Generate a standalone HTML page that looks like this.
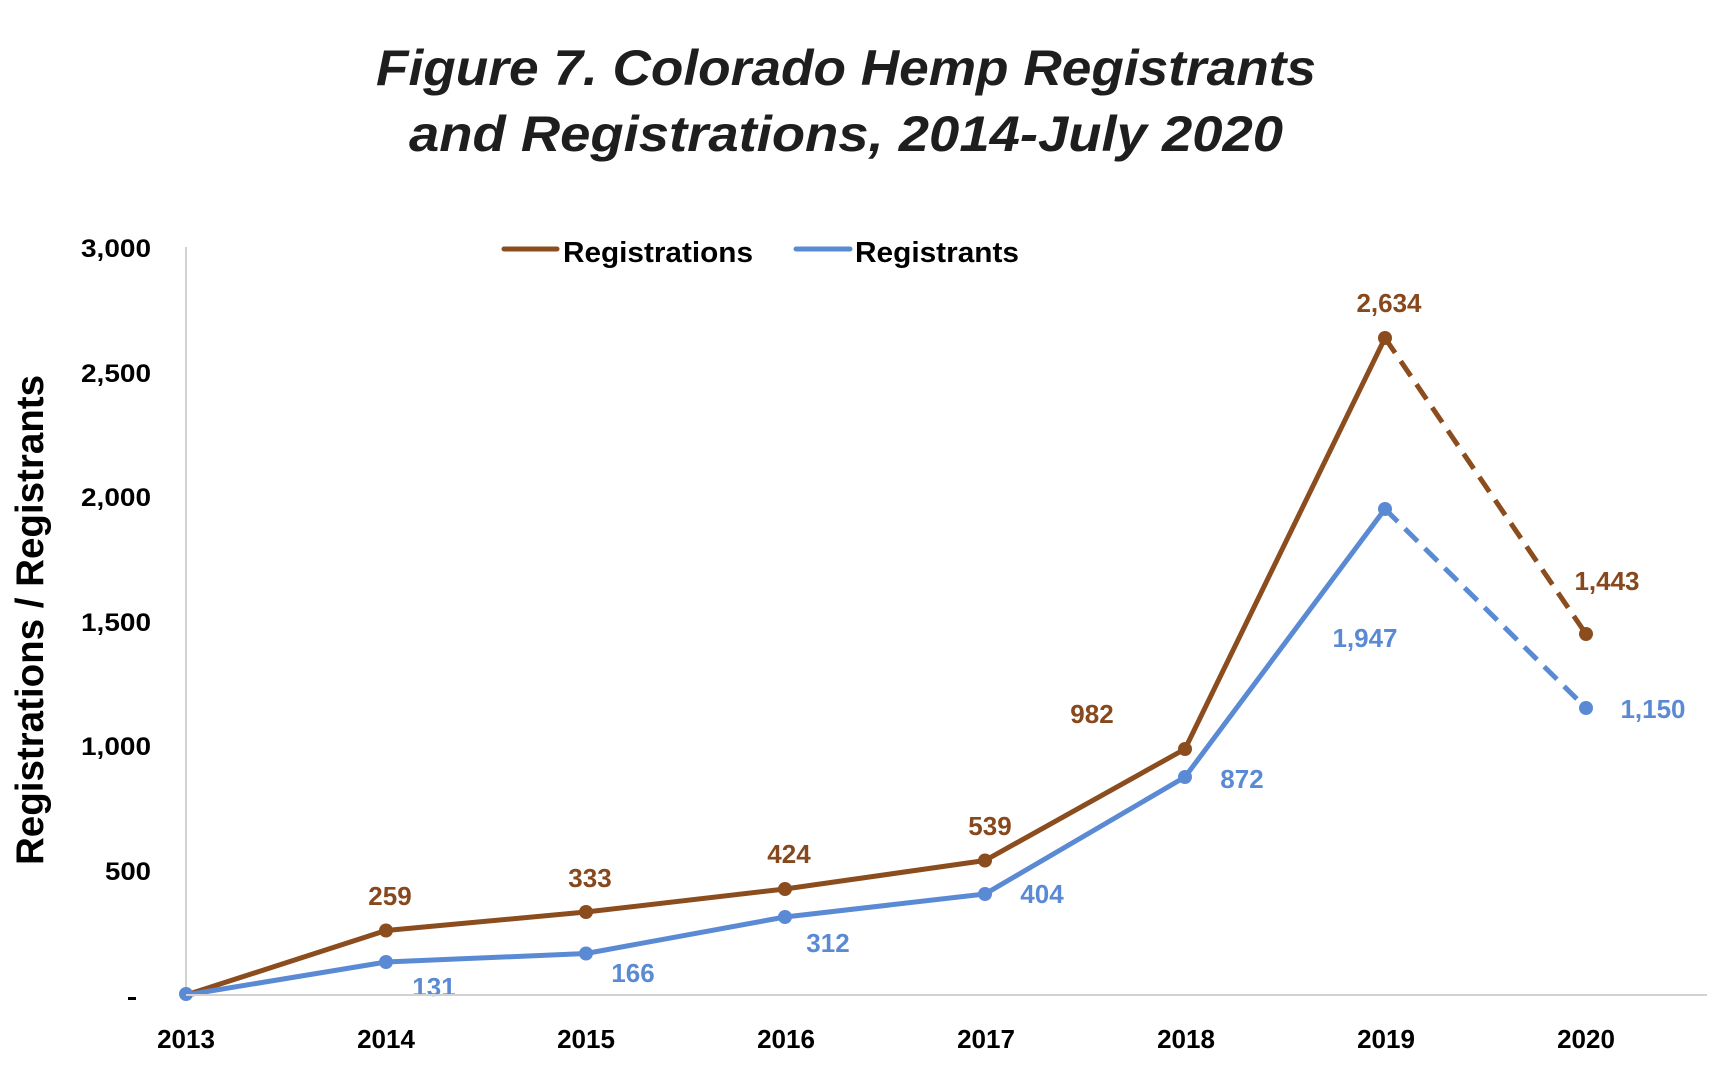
<!DOCTYPE html>
<html>
<head>
<meta charset="utf-8">
<style>
  html, body { margin: 0; padding: 0; background: #ffffff; }
  body { width: 1722px; height: 1074px; overflow: hidden; }
  svg { display: block; }
  text { font-family: "Liberation Sans", Arial, sans-serif; }
</style>
</head>
<body>
<svg width="1722" height="1074" viewBox="0 0 1722 1074" xmlns="http://www.w3.org/2000/svg">
  <rect x="0" y="0" width="1722" height="1074" fill="#ffffff"/>

  <!-- Title -->
  <text x="376" y="85" font-size="50" font-weight="bold" font-style="italic" fill="#1e1e1e" textLength="940" lengthAdjust="spacingAndGlyphs">Figure 7. Colorado Hemp Registrants</text>
  <text x="409" y="151" font-size="50" font-weight="bold" font-style="italic" fill="#1e1e1e" textLength="874" lengthAdjust="spacingAndGlyphs">and Registrations, 2014-July 2020</text>

  <!-- Y axis title -->
  <text transform="translate(43,620) rotate(-90)" x="0" y="0" text-anchor="middle" font-size="39" font-weight="bold" fill="#000" textLength="490" lengthAdjust="spacingAndGlyphs">Registrations / Registrants</text>

  <!-- Y tick labels -->
  <g font-size="25" font-weight="bold" fill="#000" text-anchor="end">
    <text x="151" y="257" textLength="70" lengthAdjust="spacingAndGlyphs">3,000</text>
    <text x="151" y="382" textLength="70" lengthAdjust="spacingAndGlyphs">2,500</text>
    <text x="151" y="506" textLength="70" lengthAdjust="spacingAndGlyphs">2,000</text>
    <text x="151" y="631" textLength="70" lengthAdjust="spacingAndGlyphs">1,500</text>
    <text x="151" y="755" textLength="70" lengthAdjust="spacingAndGlyphs">1,000</text>
    <text x="151" y="880" textLength="46" lengthAdjust="spacingAndGlyphs">500</text>
  </g>
  <rect x="128" y="997" width="8" height="3" fill="#000"/>

  <!-- Axes -->
  <line x1="186" y1="247" x2="186" y2="995" stroke="#d2d2d2" stroke-width="2"/>

  <!-- X tick labels -->
  <g font-size="26" font-weight="bold" fill="#000" text-anchor="middle">
    <text x="186" y="1048">2013</text>
    <text x="386" y="1048">2014</text>
    <text x="586" y="1048">2015</text>
    <text x="786" y="1048">2016</text>
    <text x="986" y="1048">2017</text>
    <text x="1186" y="1048">2018</text>
    <text x="1386" y="1048">2019</text>
    <text x="1586" y="1048">2020</text>
  </g>

  <!-- Legend -->
  <line x1="504" y1="249" x2="557" y2="249" stroke="#8b4c1e" stroke-width="5" stroke-linecap="round"/>
  <text x="563" y="262" font-size="29" font-weight="bold" fill="#000" textLength="190" lengthAdjust="spacingAndGlyphs">Registrations</text>
  <line x1="796" y1="249" x2="850" y2="249" stroke="#5b8ad4" stroke-width="5" stroke-linecap="round"/>
  <text x="855" y="262" font-size="29" font-weight="bold" fill="#000" textLength="164" lengthAdjust="spacingAndGlyphs">Registrants</text>

  <!-- Registrations (brown) -->
  <polyline points="186,995 386,930.5 586,912 785,889 985,860.5 1185,749 1385,338" fill="none" stroke="#8b4c1e" stroke-width="5" stroke-linejoin="round" stroke-linecap="round"/>
  <line x1="1385" y1="338" x2="1586" y2="634" stroke="#8b4c1e" stroke-width="5" stroke-dasharray="18 10"/>
  <g fill="#8b4c1e">
    <circle cx="386" cy="930.5" r="7"/>
    <circle cx="586" cy="912" r="7"/>
    <circle cx="785" cy="889" r="7"/>
    <circle cx="985" cy="860.5" r="7"/>
    <circle cx="1185" cy="749" r="7"/>
    <circle cx="1385" cy="338" r="7"/>
    <circle cx="1586" cy="634" r="7"/>
  </g>

  <!-- Registrants (blue) -->
  <polyline points="186,995 386,962 586,953.5 785,917 985,894 1185,777 1385,509" fill="none" stroke="#5b8ad4" stroke-width="5" stroke-linejoin="round" stroke-linecap="round"/>
  <line x1="1385" y1="509" x2="1586" y2="708" stroke="#5b8ad4" stroke-width="5" stroke-dasharray="18 10"/>
  <g fill="#5b8ad4">
    <circle cx="186" cy="994" r="7"/>
    <circle cx="386" cy="962" r="7"/>
    <circle cx="586" cy="953.5" r="7"/>
    <circle cx="785" cy="917" r="7"/>
    <circle cx="985" cy="894" r="7"/>
    <circle cx="1185" cy="777" r="7"/>
    <circle cx="1385" cy="509" r="7"/>
    <circle cx="1586" cy="708" r="7"/>
  </g>

  <!-- Brown data labels -->
  <g font-size="26" font-weight="bold" fill="#86481c" text-anchor="middle">
    <text x="390" y="905">259</text>
    <text x="590" y="887">333</text>
    <text x="789" y="863">424</text>
    <text x="990" y="835">539</text>
    <text x="1092" y="723">982</text>
    <text x="1389" y="312">2,634</text>
    <text x="1607" y="590">1,443</text>
  </g>

  <!-- Blue data labels -->
  <g font-size="26" font-weight="bold" fill="#5b8ad4" text-anchor="middle">
    <text x="434" y="996">131</text>
    <text x="633" y="982">166</text>
    <text x="828" y="952">312</text>
    <text x="1042" y="903">404</text>
    <text x="1242" y="788">872</text>
    <text x="1365" y="647">1,947</text>
    <text x="1653" y="718">1,150</text>
  </g>

  <!-- X axis line drawn last -->
  <line x1="186" y1="995" x2="1707" y2="995" stroke="#d2d2d2" stroke-width="2"/>
</svg>
</body>
</html>
